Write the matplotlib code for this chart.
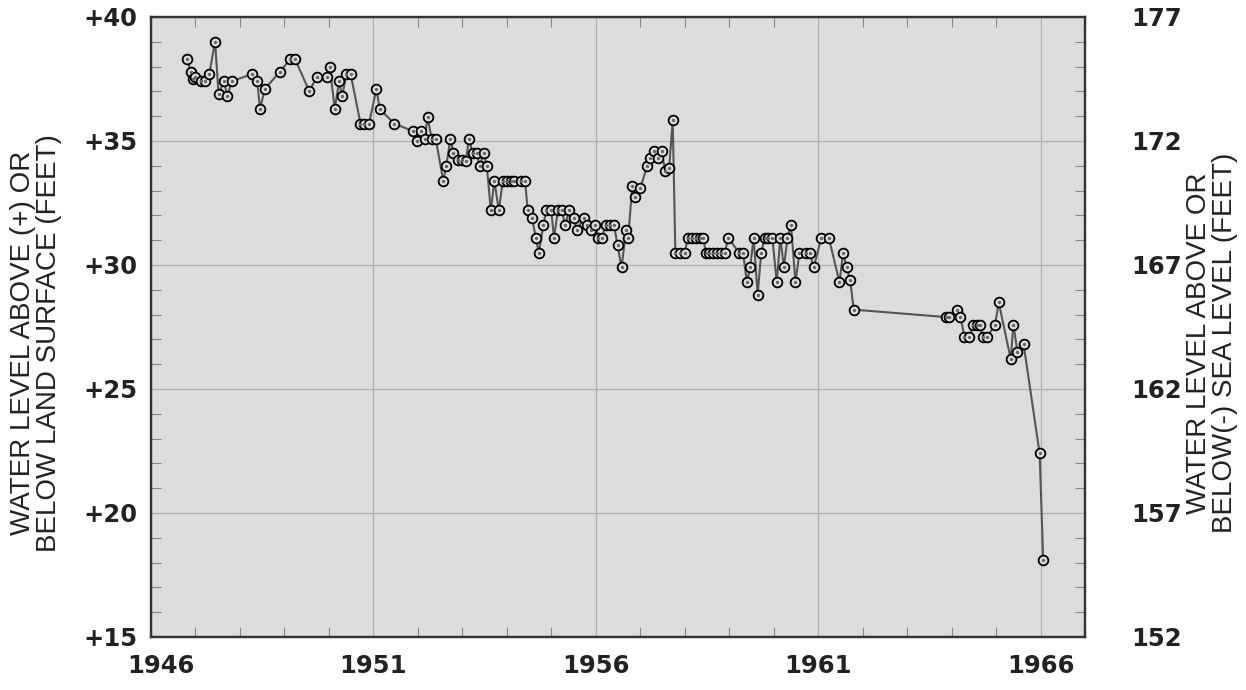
import matplotlib
matplotlib.use("Agg")
import matplotlib.pyplot as plt
from matplotlib.font_manager import FontProperties
from matplotlib.ticker import MultipleLocator, FixedLocator
from matplotlib.transforms import ScaledTranslation

# water level record (decimal year, feet above land surface)
years = [
    1946.81, 1946.89, 1946.94, 1947.00, 1947.13, 1947.21, 1947.31, 1947.44, 1947.52, 1947.64,
    1947.72, 1947.81, 1948.27, 1948.39, 1948.45, 1948.56, 1948.90, 1949.13, 1949.24, 1949.56,
    1949.73, 1949.95, 1950.02, 1950.13, 1950.23, 1950.30, 1950.39, 1950.49, 1950.71, 1950.80,
    1950.90, 1951.07, 1951.14, 1951.47, 1951.89, 1951.97, 1952.07, 1952.15, 1952.22, 1952.31,
    1952.40, 1952.57, 1952.64, 1952.73, 1952.80, 1952.90, 1952.99, 1953.08, 1953.15, 1953.23,
    1953.32, 1953.39, 1953.48, 1953.55, 1953.64, 1953.72, 1953.82, 1953.91, 1954.00, 1954.09,
    1954.17, 1954.32, 1954.41, 1954.47, 1954.57, 1954.65, 1954.72, 1954.82, 1954.89, 1955.00,
    1955.06, 1955.15, 1955.24, 1955.31, 1955.40, 1955.50, 1955.57, 1955.73, 1955.81, 1955.90,
    1955.99, 1956.06, 1956.14, 1956.22, 1956.31, 1956.41, 1956.49, 1956.58, 1956.68, 1956.73,
    1956.82, 1956.89, 1957.00, 1957.16, 1957.23, 1957.31, 1957.40, 1957.48, 1957.56, 1957.65,
    1957.73, 1957.79, 1957.89, 1958.00, 1958.07, 1958.16, 1958.25, 1958.34, 1958.42, 1958.47,
    1958.55, 1958.64, 1958.73, 1958.82, 1958.90, 1958.98, 1959.22, 1959.31, 1959.40, 1959.47,
    1959.55, 1959.64, 1959.72, 1959.80, 1959.88, 1959.97, 1960.07, 1960.15, 1960.23, 1960.31,
    1960.39, 1960.49, 1960.58, 1960.73, 1960.81, 1960.90, 1961.07, 1961.24, 1961.48, 1961.56,
    1961.64, 1961.72, 1961.80, 1963.88, 1963.95, 1964.13, 1964.20, 1964.29, 1964.40, 1964.48,
    1964.57, 1964.63, 1964.70, 1964.80, 1964.98, 1965.06, 1965.33, 1965.39, 1965.48, 1965.62,
    1965.98, 1966.06,
]
levels = [
    38.3, 37.8, 37.5, 37.6, 37.4, 37.4, 37.7, 39.0, 36.9, 37.4,
    36.8, 37.4, 37.7, 37.4, 36.3, 37.1, 37.8, 38.3, 38.3, 37.0,
    37.6, 37.6, 38.0, 36.3, 37.4, 36.8, 37.7, 37.7, 35.7, 35.7,
    35.7, 37.1, 36.3, 35.7, 35.4, 35.0, 35.4, 35.1, 35.95, 35.1,
    35.1, 33.4, 34.0, 35.1, 34.5, 34.25, 34.25, 34.2, 35.1, 34.5,
    34.5, 34.0, 34.5, 34.0, 32.2, 33.4, 32.2, 33.4, 33.4, 33.4,
    33.4, 33.4, 33.4, 32.2, 31.9, 31.1, 30.5, 31.6, 32.2, 32.2,
    31.1, 32.2, 32.2, 31.6, 32.2, 31.9, 31.4, 31.9, 31.6, 31.4,
    31.6, 31.1, 31.1, 31.6, 31.6, 31.6, 30.8, 29.9, 31.4, 31.1,
    33.2, 32.75, 33.1, 34.0, 34.3, 34.6, 34.3, 34.6, 33.8, 33.9,
    35.85, 30.5, 30.5, 30.5, 31.1, 31.1, 31.1, 31.1, 31.1, 30.5,
    30.5, 30.5, 30.5, 30.5, 30.5, 31.1, 30.5, 30.5, 29.3, 29.9,
    31.1, 28.8, 30.5, 31.1, 31.1, 31.1, 29.3, 31.1, 29.9, 31.1,
    31.6, 29.3, 30.5, 30.5, 30.5, 29.9, 31.1, 31.1, 29.3, 30.5,
    29.9, 29.4, 28.2, 27.9, 27.9, 28.2, 27.9, 27.1, 27.1, 27.6,
    27.6, 27.6, 27.1, 27.1, 27.6, 28.5, 26.2, 27.6, 26.5, 26.8,
    22.4, 18.1,
]

year_ticks = [1946, 1951, 1956, 1961, 1966]
left_ticks = [15, 20, 25, 30, 35, 40]
left_labels = ["+15", "+20", "+25", "+30", "+35", "+40"]
right_ticks = [152, 157, 162, 167, 172, 177]

BG = "#dcdcdc"
GRID = "#b0b0b0"
SPINE = "#333333"

fig = plt.figure(figsize=(12.46, 6.90), dpi=100)
ax = fig.add_axes([151 / 1246, 53 / 690, 934 / 1246, 620 / 690])
ax.set_facecolor(BG)

ax.plot(years, levels, color="#555555", linewidth=1.5, marker="o",
        markersize=7, markerfacecolor=BG, markeredgecolor="black",
        markeredgewidth=1.3, zorder=3)
# tiny mark inside each open circle
ax.plot(years, levels, linestyle="none", marker="o", markersize=1.4,
        color="#666666", zorder=4)

ax.set_xlim(1946, 1967)
ax.set_ylim(15, 40)
ax.xaxis.set_major_locator(FixedLocator(year_ticks))
ax.xaxis.set_minor_locator(MultipleLocator(1))
ax.yaxis.set_major_locator(FixedLocator(left_ticks))
ax.yaxis.set_minor_locator(MultipleLocator(1))
ax.set_yticklabels(left_labels)
ax.grid(True, which="major", color=GRID, linewidth=0.9)
ax.set_axisbelow(True)

tick_font = FontProperties(family="DejaVu Sans", weight="bold", size=17.5)
ax.tick_params(which="both", direction="in", top=True, right=False, colors=SPINE)
ax.tick_params(which="major", length=0, pad=10)
ax.tick_params(which="minor", length=7, width=0.8, color="#888888")
ax.tick_params(axis="x", which="major", pad=12)
for lab in ax.get_xticklabels() + ax.get_yticklabels():
    lab.set_fontproperties(tick_font)
    lab.set_color("#222222")
# first year label sits a little right of the corner in the original
first = ax.get_xticklabels()[0]
first.set_transform(first.get_transform() + ScaledTranslation(10 / 100, 0, fig.dpi_scale_trans))

ax2 = ax.twinx()
ax2.set_ylim(152, 177)
ax2.yaxis.set_major_locator(FixedLocator(right_ticks))
ax2.yaxis.set_minor_locator(MultipleLocator(1))
ax2.tick_params(which="both", direction="in")
ax2.tick_params(which="major", length=0, pad=33)
ax2.tick_params(which="minor", length=7, width=0.8, color="#888888")
for lab in ax2.get_yticklabels():
    lab.set_fontproperties(tick_font)
    lab.set_color("#222222")

for a in (ax, ax2):
    for sp in a.spines.values():
        sp.set_color(SPINE)
        sp.set_linewidth(1.6)

label_font = dict(family=["Liberation Sans"], size=20, color="#222222")
fig.text(36 / 1246, 1 - 343 / 690, "WATER LEVEL ABOVE (+) OR\nBELOW LAND SURFACE (FEET)",
         rotation=90, ha="center", va="center", multialignment="center",
         linespacing=1.0, **label_font)
fig.text(1212 / 1246, 1 - 343 / 690, "WATER LEVEL ABOVE OR\nBELOW(-) SEA LEVEL (FEET)",
         rotation=90, ha="center", va="center", multialignment="center",
         linespacing=1.0, **label_font)

fig.savefig("out.png", dpi=100, facecolor="white")
